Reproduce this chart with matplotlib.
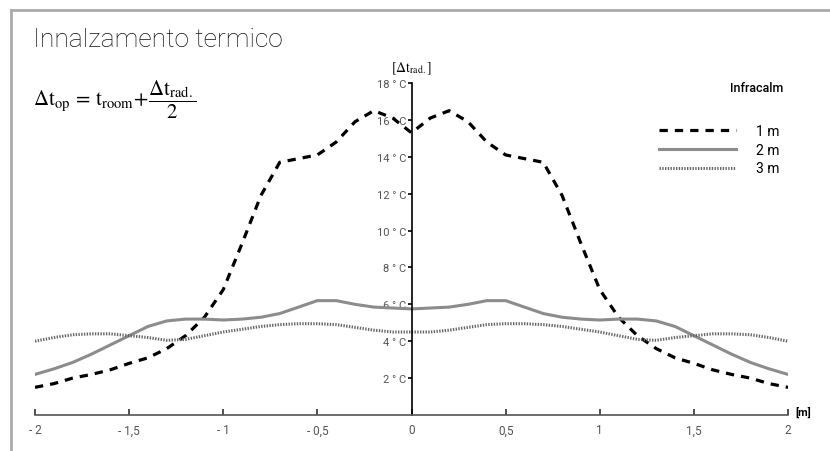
import matplotlib.pyplot as plt
from matplotlib.lines import Line2D
import numpy as np

plt.rcParams['mathtext.fontset'] = 'stix'

# distance from centre [m]
x = np.round(np.arange(-2.0, 2.01, 0.1), 2)

# temperature rise at 1 m, 2 m, 3 m
t_1m = [1.5, 1.7, 2.0, 2.2, 2.45, 2.8, 3.1, 3.6, 4.3, 5.3, 6.8,
        9.3, 11.9, 13.7, 13.9, 14.1, 14.8, 15.9, 16.5, 16.1, 15.3,
        16.1, 16.5, 15.9, 14.8, 14.1, 13.9, 13.7, 11.9, 9.3, 6.8,
        5.3, 4.3, 3.6, 3.1, 2.8, 2.45, 2.2, 2.0, 1.7, 1.5]
t_2m = [2.2, 2.5, 2.85, 3.3, 3.8, 4.3, 4.8, 5.1, 5.2, 5.2, 5.15,
        5.2, 5.3, 5.5, 5.85, 6.2, 6.2, 6.0, 5.85, 5.8, 5.75,
        5.8, 5.85, 6.0, 6.2, 6.2, 5.85, 5.5, 5.3, 5.2, 5.15,
        5.2, 5.2, 5.1, 4.8, 4.3, 3.8, 3.3, 2.85, 2.5, 2.2]
t_3m = [4.0, 4.2, 4.35, 4.4, 4.4, 4.3, 4.2, 4.05, 4.1, 4.3, 4.5,
        4.65, 4.8, 4.9, 4.95, 4.95, 4.9, 4.75, 4.6, 4.5, 4.5,
        4.5, 4.6, 4.75, 4.9, 4.95, 4.95, 4.9, 4.8, 4.65, 4.5,
        4.3, 4.1, 4.05, 4.2, 4.3, 4.4, 4.4, 4.35, 4.2, 4.0]

x_ticks = [-2, -1.5, -1, -0.5, 0, 0.5, 1, 1.5, 2]
x_labels = ['- 2', '- 1,5', '- 1', '- 0,5', '0', '0,5', '1', '1,5', '2']
y_ticks = [2, 4, 6, 8, 10, 12, 14, 16, 18]
y_labels = ['%d ° C' % v for v in y_ticks]

fig = plt.figure(figsize=(8.3, 4.52), dpi=100)
ax = fig.add_axes([35/830, 36/452, 753/830, 332/452])

ax.plot(x, t_1m, color='black', lw=2.3, ls=(0, (2.6, 2.2)), label='1 m')
ax.plot(x, t_2m, color='#8c8c8c', lw=2.2, label='2 m')
ax.plot(x, t_3m, color='#666666', lw=2.2, ls=(0, (0.45, 0.45)), label='3 m')

ax.set_xlim(-2, 2)
ax.set_ylim(0, 18)
ax.spines['left'].set_position(('data', 0))
ax.spines['left'].set_linewidth(1.2)
ax.spines['bottom'].set_color('#555555')
ax.spines['bottom'].set_linewidth(1.2)
ax.spines['top'].set_visible(False)
ax.spines['right'].set_visible(False)

ax.set_xticks(x_ticks)
ax.set_xticklabels(x_labels)
ax.set_yticks(y_ticks)
ax.set_yticklabels(y_labels)
ax.tick_params(axis='x', direction='in', length=4, width=1.2, color='#333333',
               labelsize=8.5, labelcolor='#555555', pad=6)
ax.tick_params(axis='y', direction='out', length=3, width=1.2, color='black',
               labelsize=8, labelcolor='#555555', pad=1)
for lab in ax.get_xticklabels() + ax.get_yticklabels():
    lab.set_fontfamily('Roboto')

ax.text(2.04, 0.2, '[m]', fontsize=8, fontweight='bold', fontfamily='Roboto',
        ha='left', va='center')
ax.text(0, 18.4, r'$[\Delta\mathrm{t}_{\mathrm{rad.}}]$', fontsize=10, ha='center', va='bottom')

leg = ax.legend(loc='upper right', bbox_to_anchor=(1.005, 0.915), frameon=False,
                handlelength=5.6, labelspacing=0.35, handletextpad=1.4,
                prop={'family': 'Roboto', 'size': 10})

fig.text(33/830, 1 - 47/452, 'Innalzamento termico', fontsize=19, fontfamily='Roboto',
         fontweight='light', va='baseline', color='#111111')
fig.text(33/830, 1 - 100/452,
         r'$\Delta\mathrm{t}_{\mathrm{op}}\,=\,\mathrm{t}_{\mathrm{room}}\!+\!\dfrac{\Delta\mathrm{t}_{\mathrm{rad.}}}{2}$',
         fontsize=15, va='center')
fig.text(783/830, 1 - 88/452, 'Infracalm', fontsize=9, fontfamily='Roboto',
         fontweight='medium', ha='right', va='center')

# grey frame
fig.add_artist(Line2D([11/830, 11/830], [-0.1, 1 - 11/452], color='#aaaaaa', lw=2))
fig.add_artist(Line2D([11/830, 1.1], [1 - 11/452, 1 - 11/452], color='#aaaaaa', lw=2))

fig.savefig('out.png', dpi=100)
